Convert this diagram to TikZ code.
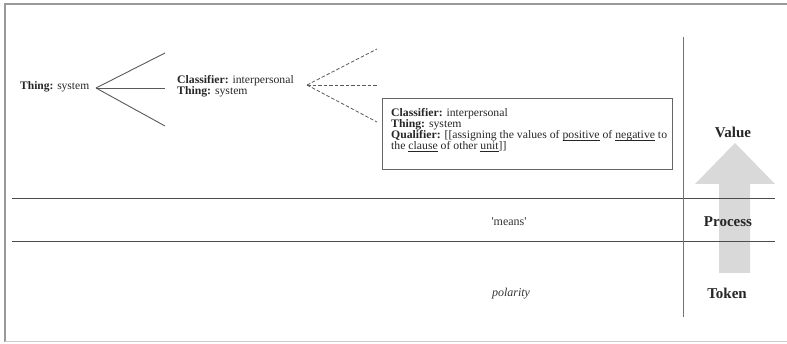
\documentclass[tikz,border=0pt]{standalone}
\usepackage{fontspec}
\setmainfont{Liberation Serif}
\newfontfamily\boxfont[FakeStretch=1.02]{Liberation Serif}
% thin underline sitting just below the baseline
\newcommand\ulword[1]{\leavevmode\setbox0\hbox{#1}\rlap{\rule[-1.6pt]{\wd0}{0.5pt}}\box0\relax}
\begin{document}
\begin{tikzpicture}[x=1pt,y=-1pt,
  small/.style={font=\fontsize{11.5}{11}\selectfont, text=black!85, inner sep=0pt},
  big/.style={font=\fontsize{15}{16}\selectfont\bfseries, text=black!85, inner sep=0pt},
  mid/.style={font=\fontsize{12}{13}\selectfont, text=black!80, inner sep=0pt},
  branch/.style={draw=black!65, line width=0.9pt},
  dashbranch/.style={draw=black!65, line width=0.8pt, dash pattern=on 3.5pt off 2pt},
  rule/.style={draw=black!70, line width=1pt},
  frameline/.style={draw=black!40, line width=1.3pt},
  qualframe/.style={draw=black!60, line width=0.8pt}]
\useasboundingbox (0,0) rectangle (787,344);

% outer frame
\draw[frameline] (5,342) -- (5,4) -- (787,4);
\draw[draw=black!20, line width=1pt] (5,342) -- (787,342);

% upward arrow behind the rows
\fill[black!15] (719,273) -- (750,273) -- (750,184) -- (775,184) -- (735,143)
  -- (695,184) -- (719,184) -- cycle;

% row separators and column divider
\coordinate (r1a) at (12,199); \coordinate (r1b) at (775,199);
\coordinate (r2a) at (12,242); \coordinate (r2b) at (775,242);
\coordinate (vtop) at (683,37); \coordinate (vbot) at (683,317);
\draw[rule] (r1a) -- (r1b);
\draw[rule] (r2a) -- (r2b);
\draw[draw=black!55, line width=1pt] (vtop) -- (vbot);

% first level of the tree
\node[small, anchor=west] (thing) at (20,87) {\textbf{Thing:} system};
\coordinate (fork1) at (96,88);
\coordinate (b1) at (165,53);
\coordinate (b2) at (165,88);
\coordinate (b3) at (165,126);
\draw[branch] (fork1) -- (b1);
\draw[branch] (fork1) -- (b2);
\draw[branch] (fork1) -- (b3);

% second level
\node[small, anchor=west, align=left, font=\fontsize{11.5}{11}\boxfont] (classif) at (177,86.5)
  {\textbf{Classifier:} interpersonal\\\textbf{Thing:} system};
\coordinate (fork2) at (307,85);
\coordinate (d1) at (377,49);
\coordinate (d2) at (377,85);
\coordinate (d3) at (377,122);
\draw[dashbranch] (fork2) -- (d1);
\draw[dashbranch] (fork2) -- (d2);
\draw[dashbranch] (fork2) -- (d3);

% third level, boxed
\node[qualframe, anchor=north west, minimum width=290pt, minimum height=71pt,
  inner sep=0pt] (qualbox) at (382,98) {};
\node[small, anchor=north west, align=left, font=\fontsize{11.5}{11}\boxfont] (qualtext) at (391,108.5)
  {\textbf{Classifier:} interpersonal\\
   \textbf{Thing:} system\\
   \textbf{Qualifier:} [[assigning the values of \ulword{positive} of \ulword{negative} to\\
   the \ulword{clause} of other \ulword{unit}]]};

% row contents
\node[mid] (means) at (509,222) {\textquotesingle means\textquotesingle};
\node[mid, font=\fontsize{12}{13}\selectfont\itshape] (polarity) at (511,294) {polarity};

% right-hand column labels
\node[big] (value) at (733,132) {Value};
\node[big] (process) at (728,222) {Process};
\node[big] (token) at (727,293) {Token};
\end{tikzpicture}
\end{document}
